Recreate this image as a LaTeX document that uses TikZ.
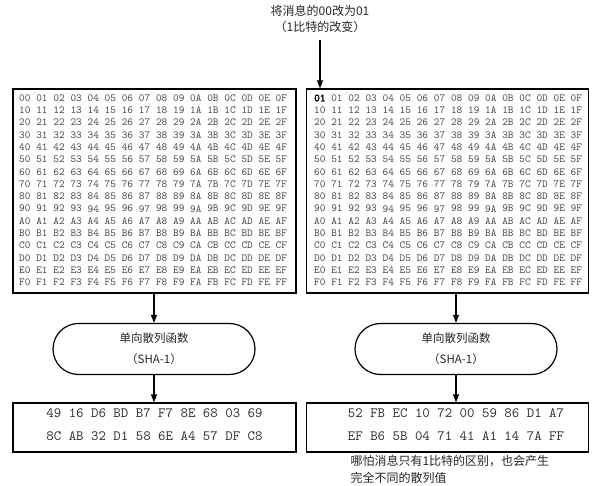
\documentclass[tikz,border=0pt]{standalone}
\usepackage{fontspec}
\setmainfont{Noto Sans CJK SC}
\newfontfamily\hexfont{lmmono10-regular.otf}
\newfontfamily\hexbold{lmmono10-regular.otf}[FakeBold=2.5]
\usetikzlibrary{arrows.meta}
\begin{document}
\begin{tikzpicture}[x=1pt,y=-1pt,
  frame/.style={draw, line width=1.3pt, inner sep=0pt, minimum width=283pt},
  hexcell/.style={font=\hexfont\fontsize{10.8}{10.8}\selectfont, text=black!72, anchor=west, inner sep=0pt},
  stadium/.style={draw, line width=1.2pt, rounded corners=25.5pt, minimum width=202pt, minimum height=51pt, align=center, font=\fontsize{11.5}{21}\selectfont, text=black!85},
  hashtext/.style={font=\hexfont\fontsize{14.2}{23}\selectfont, align=center, text=black!80, inner sep=0pt},
  label/.style={font=\fontsize{12}{16.5}\selectfont, text=black!85},
  arrow/.style={line width=1.1pt, -{Triangle[length=8pt,width=6pt]}}]
\useasboundingbox (0,0) rectangle (600,486);
% message boxes
\node[frame, minimum height=204pt] (L) at (154.5,191) {};
\node[frame, minimum width=282pt, minimum height=204pt] (R) at (447.5,191) {};
\foreach \r [count=\i from 0] in {0,1,2,3,4,5,6,7,8,9,A,B,C,D,E,F} {
  \foreach \c [count=\j from 0] in {0,1,2,3,4,5,6,7,8,9,A,B,C,D,E,F} {
    \node[hexcell] (L\r\c) at ({19+17.1*\j},{98+12.3*\i}) {\r\c};
    \node[hexcell] (R\r\c) at ({314+17.1*\j},{98+12.3*\i}) {\ifnum\numexpr\i+\j\relax=0 {\hexbold\color{black}01}\else\r\c\fi};
  }
}
% top label and arrow
\node[label, align=center] (lab) at (320,19) {将消息的00改为01\\（1比特的改变）};
\coordinate (astart) at (320,40);
\draw[arrow] (astart) -- (astart |- R.north);
% hash functions
\node[stadium] (LS) at (154,349) {单向散列函数\\（SHA-1）};
\node[stadium] (RS) at (456,349) {单向散列函数\\（SHA-1）};
\draw[arrow] (LS.north |- L.south) -- (LS.north);
\draw[arrow] (RS.north |- R.south) -- (RS.north);
% hash values
\node[frame, minimum height=49pt] (LH) at (154.5,427.5) {};
\node[frame, minimum width=282pt, minimum height=49pt] (RH) at (447.5,427.5) {};
\draw[arrow] (LS.south) -- (LS.south |- LH.north);
\draw[arrow] (RS.south) -- (RS.south |- RH.north);
\node[hashtext] (LHt) at (154.5,424.5) {49 16 D6 BD B7 F7 8E 68 03 69\\8C AB 32 D1 58 6E A4 57 DF C8};
\node[hashtext] (RHt) at (456,424.5) {52 FB EC 10 72 00 59 86 D1 A7\\EF B6 5B 04 71 41 A1 14 7A FF};
% caption
\node[label, anchor=north west, align=left, font=\fontsize{12}{17}\selectfont] (cap) at (347,452) {哪怕消息只有1比特的区别，也会产生\\完全不同的散列值};
\end{tikzpicture}
\end{document}
